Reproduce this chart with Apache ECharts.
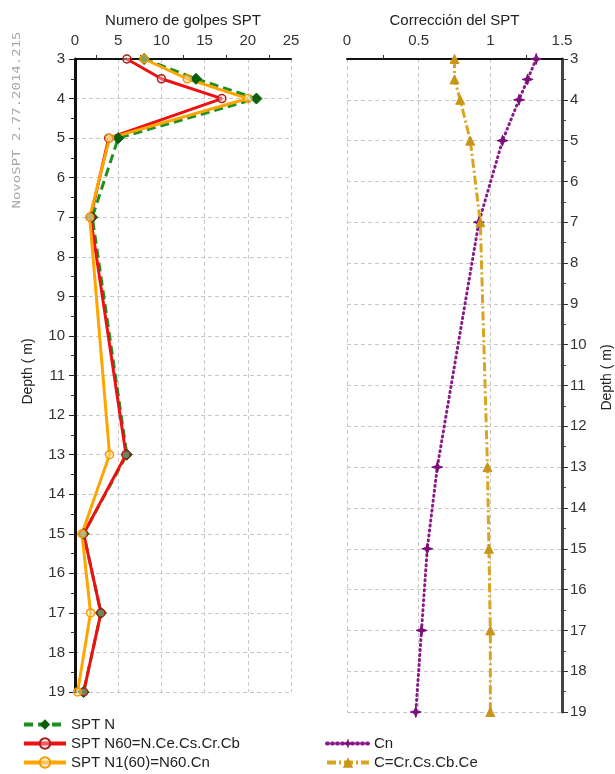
<!DOCTYPE html>
<html><head><meta charset="utf-8">
<script src="https://cdn.jsdelivr.net/npm/echarts@6/dist/echarts.min.js"></script>
<style>html,body{margin:0;padding:0;background:#fff}#c{width:615px;height:774px}</style>
</head><body><div id="c"></div>
<script>
// Depths (m)
var depths = [3, 3.5, 4, 5, 7, 13, 15, 17, 19];
// Numero de golpes SPT
var sptN    = [8, 14, 21, 5, 2, 6, 1, 3, 1];
var sptN60  = [6, 10, 17, 3.9, 1.8, 5.9, 1.0, 3.0, 1.0];
var sptN160 = [8, 13, 20, 4.0, 1.7, 4.0, 0.8, 1.8, 0.3];
// Corrección del SPT
var corrCn = [1.32, 1.26, 1.2, 1.085, 0.92, 0.63, 0.56, 0.52, 0.48];
var corrC  = [0.75, 0.75, 0.79, 0.86, 0.93, 0.98, 0.99, 1.0, 1.0];
// Names
var namesLeft = ['SPT N', 'SPT N60=N.Ce.Cs.Cr.Cb', 'SPT N1(60)=N60.Cn'];
var namesRight = ['Cn', 'C=Cr.Cs.Cb.Ce'];

function pairs(vals){ return vals.map(function(v,i){ return [v, depths[i]]; }); }

var FONT = 'Liberation Sans, Arial, sans-serif';
var labelStyle = { color:'#333', fontSize:15, fontFamily:FONT };
var gridLine = { show:true, lineStyle:{ color:'#c8c8c8', type:[4,3], width:1 } };
var starPath = 'path://M0,-10 L2.5,-2.5 L10,0 L2.5,2.5 L0,10 L-2.5,2.5 L-10,0 L-2.5,-2.5 Z';
var legTxt = { color:'#222', fontSize:15, fontFamily:FONT };
function leg(name, left, top){
  return { left:left, top:top, padding:0, orient:'horizontal', itemWidth:42, itemHeight:13, itemGap:0,
    textStyle:legTxt, lineStyle:{ width:4 }, data:[name] };
}

var chart = echarts.init(document.getElementById('c'), null, {renderer:'canvas'});
chart.setOption({
  animation:false,
  backgroundColor:'#fff',
  textStyle:{ fontFamily:FONT },
  grid:[
    { left:75, top:59, width:216, height:633 },
    { left:347, top:59, width:216, height:653 }
  ],
  xAxis:[
    { gridIndex:0, type:'value', position:'top', min:0, max:25, interval:5,
      name:'Numero de golpes SPT', nameLocation:'middle', nameGap:31,
      nameTextStyle:{ color:'#222', fontSize:15, fontFamily:FONT },
      axisLine:{ show:true, onZero:false, lineStyle:{ color:'#111', width:2 } },
      axisTick:{ show:false },
      minorTick:{ show:true, splitNumber:2, length:4, lineStyle:{ color:'#333' } },
      axisLabel:Object.assign({ margin:11 }, labelStyle),
      splitLine:gridLine },
    { gridIndex:1, type:'value', position:'top', min:0, max:1.5, interval:0.5,
      name:'Corrección del SPT', nameLocation:'middle', nameGap:31,
      nameTextStyle:{ color:'#222', fontSize:15, fontFamily:FONT },
      axisLine:{ show:true, onZero:false, lineStyle:{ color:'#111', width:2 } },
      axisTick:{ show:false },
      minorTick:{ show:true, splitNumber:2, length:4, lineStyle:{ color:'#333' } },
      axisLabel:Object.assign({ margin:11 }, labelStyle),
      splitLine:gridLine }
  ],
  yAxis:[
    { gridIndex:0, type:'value', inverse:true, min:3, max:19, interval:1, position:'left',
      name:'Depth ( m)', nameLocation:'middle', nameGap:40, nameRotate:90,
      nameTextStyle:{ color:'#222', fontSize:14, fontFamily:FONT, padding:[0,0,0,8] },
      axisLine:{ show:true, onZero:false, lineStyle:{ color:'#111', width:3 } },
      axisTick:{ show:true, length:6, lineStyle:{ color:'#222' } },
      minorTick:{ show:true, splitNumber:2, length:4, lineStyle:{ color:'#333' } },
      axisLabel:Object.assign({ margin:10 }, labelStyle),
      splitLine:gridLine },
    { gridIndex:1, type:'value', inverse:true, min:3, max:19, interval:1, position:'right',
      name:'Depth ( m)', nameLocation:'middle', nameGap:38, nameRotate:90,
      nameTextStyle:{ color:'#222', fontSize:14, fontFamily:FONT, padding:[0,0,0,16] },
      axisLine:{ show:true, onZero:false, lineStyle:{ color:'#444', width:3 } },
      axisTick:{ show:true, length:6, lineStyle:{ color:'#333' } },
      minorTick:{ show:true, splitNumber:2, length:4, lineStyle:{ color:'#444' } },
      axisLabel:Object.assign({ margin:8 }, labelStyle),
      splitLine:gridLine }
  ],
  legend:[
    leg(namesLeft[0], 22, 717),
    leg(namesLeft[1], 22, 736),
    leg(namesLeft[2], 22, 755),
    leg(namesRight[0], 325, 736),
    leg(namesRight[1], 325, 755)
  ],
  graphic:[
    { type:'text', x:17, y:120, rotation:Math.PI/2,
      style:{ text:'NovoSPT 2.77.2014.215', fill:'#a8a8a8', font:'14px "DejaVu Sans Mono", monospace',
        align:'center', verticalAlign:'middle' }, scaleX:1, scaleY:0.8 }
  ],
  series:[
    { name:namesLeft[0], type:'line', xAxisIndex:0, yAxisIndex:0, data:pairs(sptN),
      symbol:'diamond', symbolSize:11, showAllSymbol:true,
      lineStyle:{ color:'#1f8f1f', width:3, type:[9,5] },
      itemStyle:{ color:'#0b5e0b', borderColor:'#0b5e0b' } },
    { name:namesLeft[1], type:'line', xAxisIndex:0, yAxisIndex:0, data:pairs(sptN60),
      symbol:'circle', symbolSize:8,
      lineStyle:{ color:'#ee1111', width:3 },
      itemStyle:{ color:'rgba(255,200,200,0.4)', borderColor:'#a52020', borderWidth:1.5 } },
    { name:namesLeft[2], type:'line', xAxisIndex:0, yAxisIndex:0, data:pairs(sptN160),
      symbol:'circle', symbolSize:8,
      lineStyle:{ color:'#ffa500', width:3 },
      itemStyle:{ color:'rgba(255,230,180,0.5)', borderColor:'#f59a00', borderWidth:1.5 } },
    { name:namesRight[0], type:'line', xAxisIndex:1, yAxisIndex:1, data:pairs(corrCn),
      symbol:starPath, symbolSize:11,
      lineStyle:{ color:'#8a1a8a', width:3, type:[1,4], cap:'round' },
      itemStyle:{ color:'#7a0f7a', borderColor:'#7a0f7a' } },
    { name:namesRight[1], type:'line', xAxisIndex:1, yAxisIndex:1, data:pairs(corrC),
      symbol:'triangle', symbolSize:9,
      lineStyle:{ color:'#d9a520', width:3, type:[9,3,2,3] },
      itemStyle:{ color:'#c8961a', borderColor:'#c8961a' } }
  ]
});
</script></body></html>
